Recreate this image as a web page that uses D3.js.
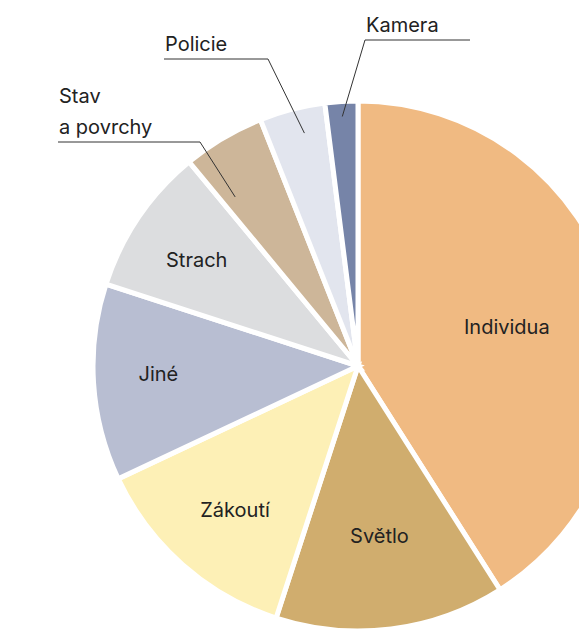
<!DOCTYPE html>
<html><head><meta charset="utf-8">
<script src="https://cdn.jsdelivr.net/npm/d3@7"></script>
<style>
html,body{margin:0;padding:0;background:#fff;}
text{font-family:Inter,"Noto Sans",sans-serif;fill:#222;}
</style></head>
<body>
<svg id="chart" width="579" height="632"></svg>
<script>
// Data
const categories = ["Individua","Světlo","Zákoutí","Jiné","Strach","Stav a povrchy","Policie","Kamera"];
const values = [41,14,13,12,9,5,4,2];
const colors = ["#F0BA82","#D0AD6E","#FDF0B6","#B8BED2","#DCDDDF","#CDB699","#E2E5EE","#7684A8"];

// Layout
const W = 579, H = 632, cx = 358, cy = 366, R = 265;
const inside = {Individua:[155,4], "Světlo":[171,0], "Zákoutí":[186,4], "Jiné":[200,-5], Strach:[195,4]};
const callouts = {
  "Kamera": {t:0.5, r:250, lines:["Kamera"], x1:365, x2:470, y:40},
  "Policie": {t:0.6, r:239, lines:["Policie"], x1:164, x2:268, y:59},
  "Stav a povrchy": {t:0.2, r:209, lines:["Stav","a povrchy"], x1:58, x2:200, y:142}
};

const data = categories.map((c,i)=>({name:c, value:values[i], color:colors[i]}));
const svg = d3.select("#chart");
const g = svg.append("g").attr("transform",`translate(${cx},${cy})`);
const pie = d3.pie().sort(null).value(d=>d.value);
const arcs = pie(data);
const arc = d3.arc().innerRadius(0).outerRadius(R);

g.selectAll("path").data(arcs).join("path")
  .attr("d",arc).attr("fill",d=>d.data.color)
  .attr("stroke","#fff").attr("stroke-width",5).attr("stroke-linejoin","miter");

// inside labels
arcs.filter(a=>inside[a.data.name]!==undefined).forEach(a=>{
  const ang=(a.startAngle+a.endAngle)/2, [r,oy]=inside[a.data.name];
  g.append("text").attr("x",r*Math.sin(ang)).attr("y",-r*Math.cos(ang)+oy)
   .attr("text-anchor","middle").attr("dy","0.35em").attr("font-size",20).text(a.data.name);
});

// callouts
arcs.filter(a=>callouts[a.data.name]).forEach(a=>{
  const c=callouts[a.data.name];
  const ang=a.startAngle+(a.endAngle-a.startAngle)*c.t;
  const px=cx+c.r*Math.sin(ang), py=cy-c.r*Math.cos(ang);
  const ex = (a.data.name==="Kamera") ? c.x1 : c.x2;
  svg.append("line").attr("x1",c.x1).attr("x2",c.x2).attr("y1",c.y).attr("y2",c.y)
     .attr("stroke","#333").attr("stroke-width",1);
  svg.append("line").attr("x1",ex).attr("y1",c.y).attr("x2",px).attr("y2",py)
     .attr("stroke","#333").attr("stroke-width",1);
  c.lines.forEach((ln,i)=>{
    svg.append("text").attr("x",c.x1+1).attr("y",c.y-8-(c.lines.length-1-i)*31)
      .attr("font-size",20).text(ln);
  });
});
</script>
</body></html>
